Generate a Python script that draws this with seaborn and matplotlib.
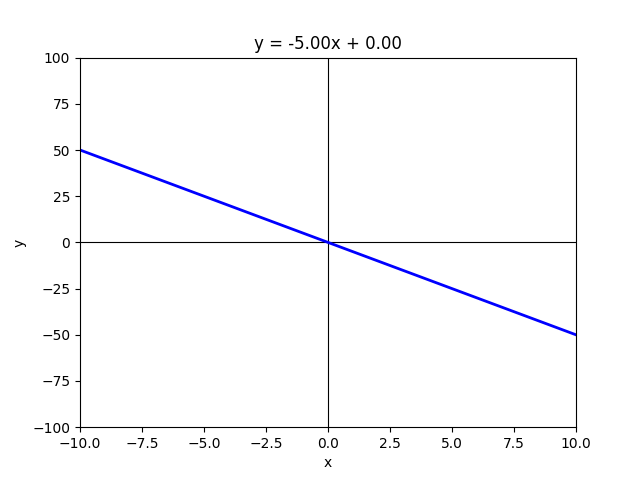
import pandas as pd
import matplotlib
matplotlib.use("Agg")
import matplotlib.pyplot as plt
import seaborn as sns

# valori
x_vals = [-10.0, -5.0, 0.0, 5.0, 10.0]
y_vals = [50.0, 25.0, 0.0, -25.0, -50.0]
slope = -5.00
intercept = 0.00

df = pd.DataFrame({"x": x_vals, "y": y_vals})

fig, ax = plt.subplots(figsize=(6.4, 4.8), dpi=100)

ax.axhline(0, color="black", linewidth=0.8)
ax.axvline(0, color="black", linewidth=0.8)
sns.lineplot(data=df, x="x", y="y", ax=ax, color="blue", linewidth=2)

ax.set_xlim(-10, 10)
ax.set_ylim(-100, 100)
ax.set_title(f"y = {slope:.2f}x + {intercept:.2f}")
ax.set_xlabel("x")
ax.set_ylabel("y")

fig.savefig("out.png", dpi=100)
